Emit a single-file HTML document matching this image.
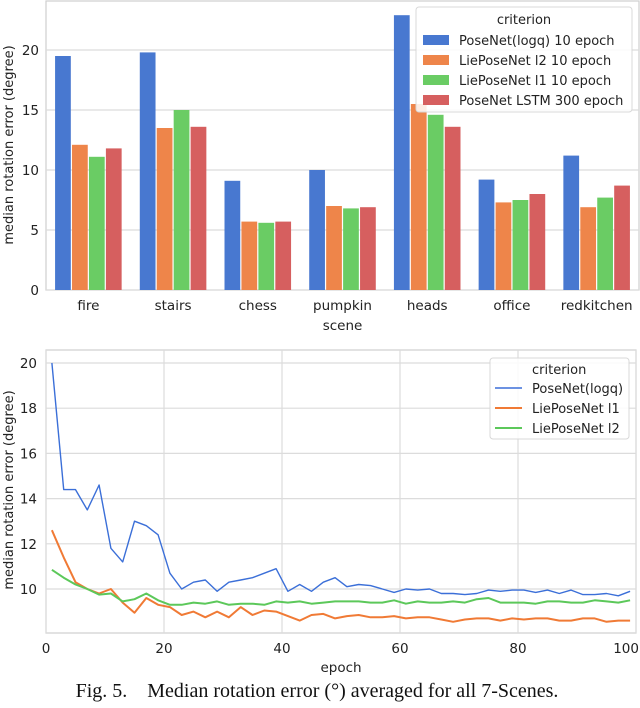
<!DOCTYPE html>
<html><head><meta charset="utf-8"><style>
body{margin:0;background:#fff;width:640px;height:708px;overflow:hidden}
svg{display:block;font-family:"DejaVu Sans","Liberation Sans",sans-serif}
</style></head><body>
<svg id="fig" width="640" height="708" viewBox="0 0 640 708">
<g id="topChart"></g>
<g id="botChart"></g>
<text x="317" y="697" text-anchor="middle" font-family="Liberation Serif, serif" font-size="20" fill="#111" style="white-space:pre">Fig. 5.    Median rotation error (°) averaged for all 7-Scenes.</text>
</svg>
<script>
const categories=["fire","stairs","chess","pumpkin","heads","office","redkitchen"];
const seriesNames=["PoseNet(logq) 10 epoch","LiePoseNet l2 10 epoch","LiePoseNet l1 10 epoch","PoseNet LSTM 300 epoch"];
const posenetVals=[19.5,19.8,9.1,10.0,22.9,9.2,11.2];
const lieL2Vals=[12.1,13.5,5.7,7.0,15.5,7.3,6.9];
const lieL1Vals=[11.1,15.0,5.6,6.8,14.6,7.5,7.7];
const lstmVals=[11.8,13.6,5.7,6.9,13.6,8.0,8.7];
const barTicks=[0,5,10,15,20];

const lineNames=["PoseNet(logq)","LiePoseNet l1","LiePoseNet l2"];
const epochs=[1,3,5,7,9,11,13,15,17,19,21,23,25,27,29,31,33,35,37,39,41,43,45,47,49,51,53,55,57,59,61,63,65,67,69,71,73,75,77,79,81,83,85,87,89,91,93,95,97,99];
const poseLine=[20,14.4,14.4,13.5,14.6,11.8,11.2,13.0,12.8,12.4,10.7,10.0,10.3,10.4,9.9,10.3,10.4,10.5,10.7,10.9,9.9,10.2,9.9,10.3,10.5,10.1,10.2,10.15,10.0,9.85,10.0,9.95,10.0,9.8,9.8,9.75,9.8,9.95,9.9,9.95,9.95,9.85,9.95,9.8,9.95,9.75,9.75,9.8,9.7,9.9];
const l1Line=[12.6,11.4,10.3,10.0,9.8,10.0,9.4,8.95,9.6,9.3,9.2,8.85,9.0,8.75,9.0,8.75,9.2,8.85,9.05,9.0,8.8,8.6,8.85,8.9,8.7,8.8,8.85,8.75,8.75,8.8,8.7,8.75,8.75,8.65,8.55,8.65,8.7,8.7,8.6,8.7,8.65,8.7,8.7,8.6,8.6,8.7,8.7,8.55,8.6,8.6];
const l2Line=[10.85,10.5,10.2,10.0,9.75,9.8,9.45,9.55,9.8,9.5,9.3,9.3,9.4,9.35,9.45,9.3,9.35,9.35,9.3,9.45,9.4,9.45,9.35,9.4,9.45,9.45,9.45,9.4,9.4,9.5,9.35,9.45,9.4,9.4,9.45,9.4,9.55,9.6,9.4,9.4,9.4,9.35,9.45,9.45,9.4,9.4,9.5,9.45,9.4,9.5];
const lineYTicks=[10,12,14,16,18,20];
const lineXTicks=[0,20,40,60,80,100];

const NS="http://www.w3.org/2000/svg";
function mk(p,t,a,txt){const e=document.createElementNS(NS,t);for(const k in a)e.setAttribute(k,a[k]);if(txt!=null)e.textContent=txt;p.appendChild(e);return e;}

// ---- bar chart ----
const topG=document.getElementById('topChart');
const bL=46,bR=639,bT=1,bB=290;
const by=v=>bB-v*12;
const band=(bR-bL)/categories.length;
const bx=i=>bL+band*(i+0.5);
const barColors=["#4878d0","#ee854a","#6acc64","#d65f5f"];
let r=mk(topG,'rect',{x:bL,y:bT,width:bR-bL,height:bB-bT,fill:'#fff',stroke:'#cfcfcf','stroke-width':1.2});


barTicks.forEach(t=>{
 let g=mk(topG,'line',{x1:bL,x2:bR,y1:by(t),y2:by(t),stroke:'#dcdcdc','stroke-width':1.2});
 
 
 let l=mk(topG,'text',{x:bL-7,y:by(t)+5,'text-anchor':'end','font-size':13.5,fill:'#222'},t);
 
 
});
const allVals=[posenetVals,lieL2Vals,lieL1Vals,lstmVals];
const bw=band*0.8/4;
categories.forEach((c,i)=>{
 allVals.forEach((vals,s)=>{
  const x=bx(i)-band*0.4+s*bw;
  let b=mk(topG,'rect',{x:x+0.6,y:by(vals[i]),width:bw-1.2,height:vals[i]*12,fill:barColors[s]});
  
  
 });
 let l=mk(topG,'text',{x:bx(i),y:bB+20,'text-anchor':'middle','font-size':13.5,fill:'#222'},c);
 
 
});
let t1=mk(topG,'text',{x:bx(3),y:bB+40,'text-anchor':'middle','font-size':13.5,fill:'#222'},'scene');


let t2=mk(topG,'text',{x:13,y:145,'text-anchor':'middle','font-size':13,fill:'#222',transform:'rotate(-90 13 145)'},'median rotation error (degree)');


let lg=mk(topG,'rect',{x:416,y:7,width:216,height:105,fill:'#fff','fill-opacity':0.85,stroke:'#d8d8d8',rx:3});


let lt=mk(topG,'text',{x:524,y:24,'text-anchor':'middle','font-size':13,fill:'#222'},'criterion');


seriesNames.forEach((n,s)=>{
 let sw=mk(topG,'rect',{x:423,y:35+s*20,width:26,height:10,fill:barColors[s]});
 
 
 let tx=mk(topG,'text',{x:459,y:45+s*20,'font-size':13,fill:'#222'},n);
 
 
});

// ---- line chart ----
const botG=document.getElementById('botChart');
const lL=46,lR=636,lT=350,lB=633;
const lx=e=>lL+e*(lR-lL)/100;
const ly=v=>589-(v-10)*22.6;
let r2=mk(botG,'rect',{x:lL,y:lT,width:lR-lL,height:lB-lT,fill:'#fff',stroke:'#cfcfcf','stroke-width':1.2});


lineYTicks.forEach(t=>{
 let g=mk(botG,'line',{x1:lL,x2:lR,y1:ly(t),y2:ly(t),stroke:'#dcdcdc','stroke-width':1.2});
 
 
 let l=mk(botG,'text',{x:lL-9,y:ly(t)+5,'text-anchor':'end','font-size':13.5,fill:'#222'},t);
 
 
});
lineXTicks.forEach((t,i)=>{
 let g=mk(botG,'line',{x1:lx(t),x2:lx(t),y1:lT,y2:lB,stroke:'#dcdcdc','stroke-width':1.2});
 
 
 const last=i===lineXTicks.length-1;
 let l=mk(botG,'text',{x:last?639:lx(t),y:lB+20,'text-anchor':last?'end':'middle','font-size':13.5,fill:'#222'},t);
 
 
});
let t3=mk(botG,'text',{x:lx(50),y:lB+39,'text-anchor':'middle','font-size':13.5,fill:'#222'},'epoch');


let t4=mk(botG,'text',{x:13,y:490,'text-anchor':'middle','font-size':13,fill:'#222',transform:'rotate(-90 13 490)'},'median rotation error (degree)');


const lineColors=["#3b6fd8","#f07a35","#5cc85a"];
const lineWidths=[1.4,2,2];
[poseLine,l1Line,l2Line].forEach((vals,s)=>{
 const d=vals.map((v,i)=>(i?'L':'M')+lx(epochs[i]).toFixed(1)+','+ly(v).toFixed(1)).join('');
 let p=mk(botG,'path',{d:d,fill:'none',stroke:lineColors[s],'stroke-width':lineWidths[s],'stroke-linejoin':'round'});
 
 
});
let lg2=mk(botG,'rect',{x:490,y:358,width:139,height:81,fill:'#fff','fill-opacity':0.85,stroke:'#d8d8d8',rx:3});


let lt2=mk(botG,'text',{x:532,y:374,'font-size':13,fill:'#222'},'criterion');


lineNames.forEach((n,s)=>{
 let sw=mk(botG,'line',{x1:495,x2:522,y1:388+s*20,y2:388+s*20,stroke:lineColors[s],'stroke-width':lineWidths[s]});
 
 
 let tx=mk(botG,'text',{x:532,y:393+s*20,'font-size':13,fill:'#222'},n);
 
 
});
</script>
</body></html>
